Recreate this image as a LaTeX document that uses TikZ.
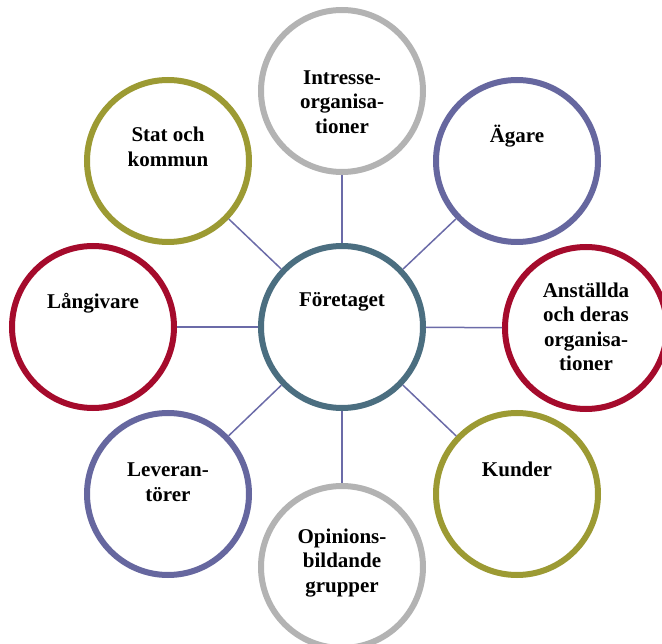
\documentclass[tikz,border=0pt]{standalone}
\usepackage{fontspec}
\setmainfont{Liberation Serif}
\usepackage{tikz}
\usetikzlibrary{arrows, positioning, shapes}
\usepackage{xcolor}
\definecolor{ringblue}{HTML}{4B6E80}
\definecolor{ringgray}{HTML}{B3B3B3}
\definecolor{ringpurple}{HTML}{66679F}
\definecolor{ringred}{HTML}{A50B2C}
\definecolor{ringolive}{HTML}{9C9A33}
\definecolor{linkpurple}{HTML}{6B6BA8}

\begin{document}
\begin{tikzpicture}[x=1pt, y=-1pt,
ringnode/.style={circle, draw=#1, fill=white, line width=6pt, inner sep=0pt, minimum size=162pt},
ringtext/.style={font=\fontsize{21}{24.5}\selectfont\bfseries, align=center, text=black},
linkline/.style={draw=linkpurple, line width=1.5pt},
]
\useasboundingbox (0,0) rectangle (662,644);

%Nodes
\node[ringnode=ringblue] at (342,327) (firm) {};
\node[ringnode=ringgray] at (342,91) (intr) {};
\node[ringnode=ringpurple] at (517,161) (owner) {};
\node[ringnode=ringred] at (586,328) (staff) {};
\node[ringnode=ringolive] at (517,494) (cust) {};
\node[ringnode=ringgray] at (342,567) (opin) {};
\node[ringnode=ringpurple] at (168,494) (supp) {};
\node[ringnode=ringred] at (93,327) (lend) {};
\node[ringnode=ringolive] at (168,161) (state) {};

%Lines
\draw [linkline] (firm) -- (intr);
\draw [linkline] (firm) -- (owner);
\draw [linkline] (firm) -- (staff);
\draw [linkline] (firm) -- (cust);
\draw [linkline] (firm) -- (opin);
\draw [linkline] (firm) -- (supp);
\draw [linkline] (firm) -- (lend);
\draw [linkline] (firm) -- (state);

%Texts
\node[ringtext, yshift=25pt] at (firm.center) (firmtext) {Företaget};
\node[ringtext, yshift=-11pt] at (intr.center) (intrtext) {Intresse-\\organisa-\\tioner};
\node[ringtext, yshift=25pt] at (owner.center) (ownertext) {Ägare};
\node[ringtext, yshift=1pt] at (staff.center) (stafftext) {Anställda\\och deras\\organisa-\\tioner};
\node[ringtext, yshift=25pt] at (cust.center) (custtext) {Kunder};
\node[ringtext, yshift=4pt] at (opin.center) (opintext) {Opinions-\\bildande\\grupper};
\node[ringtext, yshift=12pt] at (supp.center) (supptext) {Leveran-\\törer};
\node[ringtext, yshift=24pt] at (lend.center) (lendtext) {Långivare};
\node[ringtext, yshift=14pt] at (state.center) (statetext) {Stat och\\kommun};

\end{tikzpicture}
\end{document}
